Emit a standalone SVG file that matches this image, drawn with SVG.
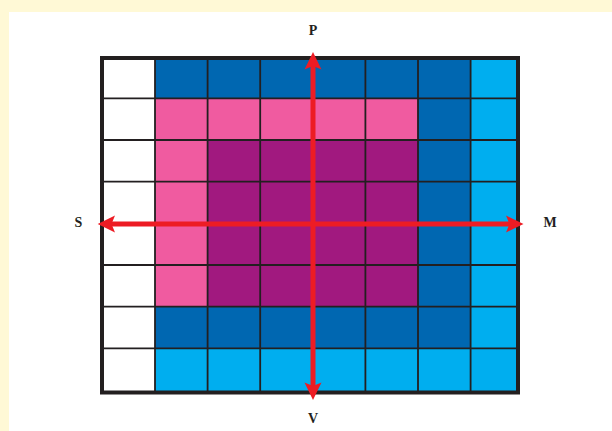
<svg xmlns="http://www.w3.org/2000/svg" width="612" height="431" viewBox="0 0 612 431">
<style>
.db{fill:#0067b1}.lb{fill:#00aeef}.pk{fill:#f05ba0}.pu{fill:#a1197f}.wh{fill:#ffffff}
.gl{stroke:#231f20;stroke-width:1.8;fill:none}
.ar{stroke:#ed1c24;stroke-width:5;fill:none}
.ah{fill:#ed1c24}
.lbl{font-family:"Liberation Serif","Times New Roman",serif;font-weight:bold;font-size:14px;fill:#231f20;text-anchor:middle}
</style>
<rect x="0" y="0" width="612" height="431" fill="#ffffff"/>
<rect x="0" y="0" width="612" height="12" fill="#fff9d6"/>
<rect x="0" y="0" width="9" height="431" fill="#fff9d6"/>
<g id="grid">
<!-- row 0 -->
<rect class="wh" x="102" y="58" width="53" height="40.3"/>
<rect class="db" x="155" y="58" width="315.6" height="40.3"/>
<rect class="lb" x="470.6" y="58" width="47.4" height="40.3"/>
<!-- row 1 -->
<rect class="wh" x="102" y="98.3" width="53" height="41.7"/>
<rect class="pk" x="155" y="98.3" width="263" height="41.7"/>
<rect class="db" x="418" y="98.3" width="52.6" height="41.7"/>
<rect class="lb" x="470.6" y="98.3" width="47.4" height="41.7"/>
<!-- rows 2-5 -->
<rect class="wh" x="102" y="140" width="53" height="166.7"/>
<rect class="pk" x="155" y="140" width="52.6" height="166.7"/>
<rect class="pu" x="207.6" y="140" width="210.4" height="166.7"/>
<rect class="db" x="418" y="140" width="52.6" height="166.7"/>
<rect class="lb" x="470.6" y="140" width="47.4" height="166.7"/>
<!-- row 6 -->
<rect class="wh" x="102" y="306.7" width="53" height="41.6"/>
<rect class="db" x="155" y="306.7" width="315.6" height="41.6"/>
<rect class="lb" x="470.6" y="306.7" width="47.4" height="41.6"/>
<!-- row 7 -->
<rect class="wh" x="102" y="348.3" width="53" height="44.2"/>
<rect class="lb" x="155" y="348.3" width="363" height="44.2"/>
<path class="gl" d="M155 58V392.5M207.6 58V392.5M260.2 58V392.5M312.8 58V392.5M365.4 58V392.5M418 58V392.5M470.6 58V392.5M102 98.3H518M102 140H518M102 181.7H518M102 223.3H518M102 265H518M102 306.7H518M102 348.3H518"/>
<rect x="102" y="58" width="416" height="334.5" fill="none" stroke="#231f20" stroke-width="4"/>
</g>
<g id="connectors">
<path class="ar" d="M313 64V388"/>
<path class="ar" d="M110 224H511"/>
<polygon class="ah" points="313,52 321.5,69.5 313,66 304.5,69.5"/>
<polygon class="ah" points="313,400 321.5,382.5 313,386 304.5,382.5"/>
<polygon class="ah" points="97.7,224 115,215.5 111.5,224 115,232.5"/>
<polygon class="ah" points="523.5,224 506,215.5 509.5,224 506,232.5"/>
</g>
<g id="label-P"><text class="lbl" x="313" y="35">P</text></g>
<g id="label-V"><text class="lbl" x="313" y="423">V</text></g>
<g id="label-S"><text class="lbl" x="78.5" y="227">S</text></g>
<g id="label-M"><text class="lbl" x="550" y="227">M</text></g>
</svg>
